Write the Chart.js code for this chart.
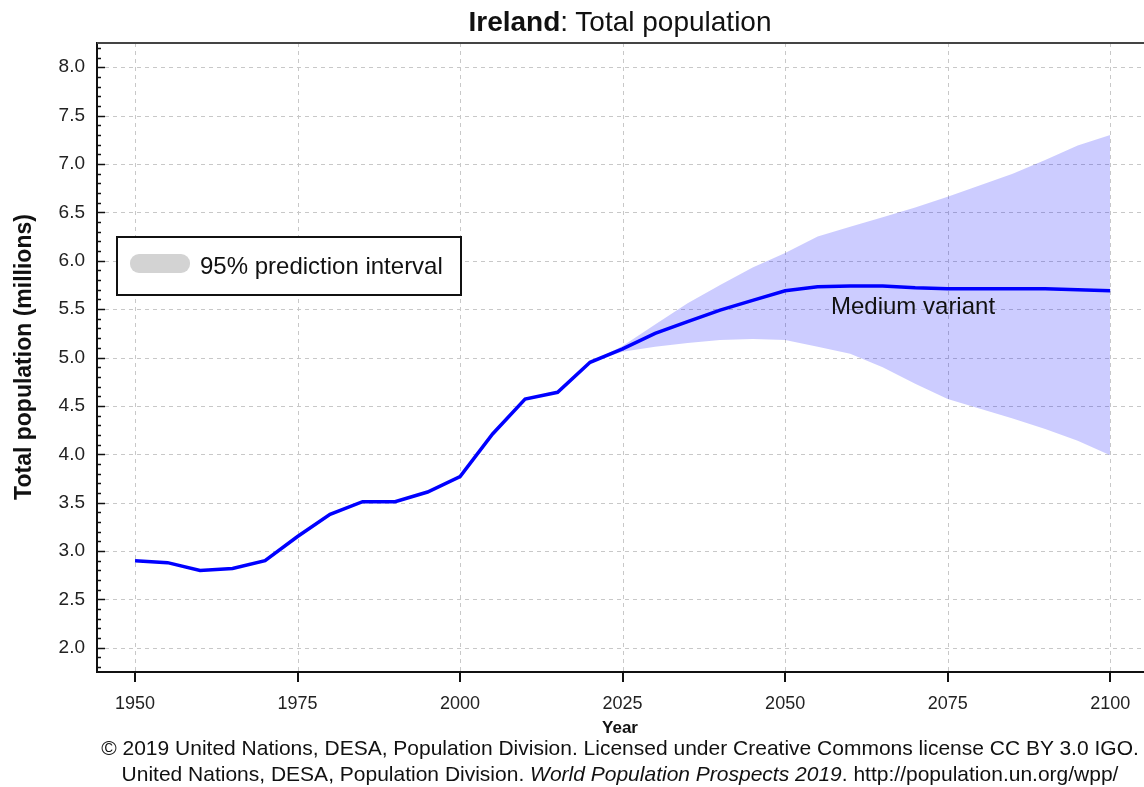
<!DOCTYPE html>
<html>
<head>
<meta charset="utf-8">
<title>Ireland: Total population</title>
<script src="https://cdn.jsdelivr.net/npm/chart.js@4/dist/chart.umd.min.js"></script>
<style>
  body { margin: 0; background: #fff; font-family: "Liberation Sans", Arial, sans-serif; color: #111; }
  #wrap { position: relative; width: 1144px; height: 787px; overflow: hidden; }
  #chart { position: absolute; left: 0; top: 0; }
  #title { position: absolute; left: 320px; width: 600px; top: 6px; text-align: center; font-size: 28px; line-height: 32px; }
  #footer { position: absolute; left: 20px; width: 1200px; top: 735px; text-align: center; font-size: 21px; line-height: 26px; }
</style>
</head>
<body>
<div id="wrap">
  <canvas id="chart" width="1144" height="787"></canvas>
  <div id="title"><b>Ireland</b>: Total population</div>
  <div id="footer">
    © 2019 United Nations, DESA, Population Division. Licensed under Creative Commons license CC BY 3.0 IGO.<br>
    United Nations, DESA, Population Division. <i>World Population Prospects 2019</i>. http://population.un.org/wpp/
  </div>
</div>
<script>
// values (millions)
const years = [1950, 1955, 1960, 1965, 1970, 1975, 1980, 1985, 1990, 1995, 2000, 2005, 2010, 2015, 2020,
  2025, 2030, 2035, 2040, 2045, 2050, 2055, 2060, 2065, 2070, 2075, 2080, 2085, 2090, 2095, 2100];
const medianPop = [2.90, 2.88, 2.80, 2.82, 2.90, 3.15, 3.38, 3.51, 3.51, 3.61, 3.77, 4.21, 4.57, 4.64, 4.95,
  5.09, 5.25, 5.37, 5.49, 5.59, 5.69, 5.73, 5.74, 5.74, 5.72, 5.71, 5.71, 5.71, 5.71, 5.70, 5.69];

const bandYears = [2020, 2025, 2030, 2035, 2040, 2045, 2050, 2055, 2060, 2065, 2070, 2075, 2080, 2085, 2090, 2095, 2100];
const upper95 = [4.95, 5.12, 5.34, 5.56, 5.75, 5.93, 6.08, 6.25, 6.35, 6.45, 6.55, 6.66, 6.78, 6.90, 7.04, 7.19, 7.30];
const lower95 = [4.95, 5.06, 5.11, 5.15, 5.18, 5.19, 5.18, 5.11, 5.04, 4.90, 4.73, 4.57, 4.47, 4.37, 4.26, 4.14, 3.99];

const xTickYears = [1950, 1975, 2000, 2025, 2050, 2075, 2100];
const yTickValues = [2.0, 2.5, 3.0, 3.5, 4.0, 4.5, 5.0, 5.5, 6.0, 6.5, 7.0, 7.5, 8.0];

const FONT = '"Liberation Sans", Arial, sans-serif';

function toPoints(xs, ys) {
  return xs.map((x, i) => ({ x: x, y: ys[i] }));
}

// grid, ticks, legend box and labels around the plot
const decorations = {
  id: 'decorations',
  beforeDatasetsDraw(chart) {
    const { ctx, chartArea: a, scales: { x, y } } = chart;
    ctx.save();
    ctx.strokeStyle = '#c8c8c8';
    ctx.lineWidth = 1;
    ctx.setLineDash([4, 4]);
    xTickYears.forEach(v => {
      const px = Math.round(x.getPixelForValue(v)) + 0.5;
      ctx.beginPath(); ctx.moveTo(px, a.top); ctx.lineTo(px, a.bottom); ctx.stroke();
    });
    yTickValues.forEach(v => {
      const py = Math.round(y.getPixelForValue(v)) + 0.5;
      ctx.beginPath(); ctx.moveTo(a.left, py); ctx.lineTo(a.right, py); ctx.stroke();
    });
    ctx.restore();
  },
  afterDraw(chart) {
    const { ctx, chartArea: a, scales: { x, y } } = chart;
    ctx.save();
    // top frame line
    ctx.strokeStyle = '#444';
    ctx.lineWidth = 2;
    ctx.beginPath(); ctx.moveTo(a.left, a.top); ctx.lineTo(chart.width, a.top); ctx.stroke();

    // y ticks, pointing into the plot
    ctx.strokeStyle = '#111';
    ctx.lineWidth = 1.5;
    for (let i = 18; i <= 82; i++) {
      const py = Math.round(y.getPixelForValue(i / 10)) + 0.5;
      const len = i % 5 === 0 ? 8 : 4;
      ctx.beginPath(); ctx.moveTo(a.left, py); ctx.lineTo(a.left + len, py); ctx.stroke();
    }
    // x ticks, pointing out
    ctx.lineWidth = 2;
    xTickYears.forEach(v => {
      const px = Math.round(x.getPixelForValue(v));
      ctx.beginPath(); ctx.moveTo(px, a.bottom); ctx.lineTo(px, a.bottom + 10); ctx.stroke();
    });

    // axis titles
    ctx.fillStyle = '#111';
    ctx.font = 'bold 17px ' + FONT;
    ctx.textAlign = 'center';
    ctx.textBaseline = 'alphabetic';
    ctx.fillText('Year', 620, 733);

    ctx.save();
    ctx.translate(31, 357);
    ctx.rotate(-Math.PI / 2);
    ctx.font = 'bold 23px ' + FONT;
    ctx.fillText('Total population (millions)', 0, 0);
    ctx.restore();

    // legend box
    ctx.fillStyle = '#fff';
    ctx.fillRect(117, 237, 344, 58);
    ctx.strokeStyle = '#111';
    ctx.lineWidth = 2;
    ctx.strokeRect(117, 237, 344, 58);
    ctx.fillStyle = '#d3d3d3';
    ctx.beginPath();
    ctx.roundRect(130, 254, 60, 19, 9);
    ctx.fill();
    ctx.fillStyle = '#111';
    ctx.font = '24px ' + FONT;
    ctx.textAlign = 'left';
    ctx.fillText('95% prediction interval', 200, 274);

    // series label
    ctx.fillText('Medium variant', 831, 314);
    ctx.restore();
  }
};

new Chart(document.getElementById('chart'), {
  type: 'line',
  data: {
    datasets: [
      {
        label: 'Medium variant',
        data: toPoints(years, medianPop),
        borderColor: '#0000ff',
        borderWidth: 3.5,
        pointRadius: 0,
        fill: false,
        tension: 0
      },
      {
        label: '95% upper',
        data: toPoints(bandYears, upper95),
        borderWidth: 0,
        borderColor: 'rgba(0,0,0,0)',
        backgroundColor: 'rgba(0,0,255,0.2)',
        pointRadius: 0,
        fill: '+1',
        tension: 0
      },
      {
        label: '95% lower',
        data: toPoints(bandYears, lower95),
        borderWidth: 0,
        borderColor: 'rgba(0,0,0,0)',
        pointRadius: 0,
        fill: false,
        tension: 0
      }
    ]
  },
  options: {
    responsive: false,
    animation: false,
    layout: { padding: { left: 0, top: 43, right: 0, bottom: 0 } },
    plugins: {
      legend: { display: false },
      tooltip: { enabled: false },
      title: { display: false }
    },
    scales: {
      x: {
        type: 'linear',
        min: 1944.15,
        max: 2105.2,
        afterBuildTicks: scale => { scale.ticks = xTickYears.map(v => ({ value: v })); },
        afterFit: scale => {
          scale.height = 115;
          scale.paddingLeft = 0;
          scale.paddingRight = 0;
        },
        grid: { display: false, drawTicks: false },
        border: { display: true, color: '#111', width: 2 },
        ticks: {
          padding: 21,
          color: '#222',
          font: { family: FONT, size: 18 },
          maxRotation: 0,
          callback: v => String(v)
        }
      },
      y: {
        type: 'linear',
        min: 1.75,
        max: 8.25,
        afterBuildTicks: scale => { scale.ticks = yTickValues.map(v => ({ value: v })); },
        afterFit: scale => {
          scale.width = 97;
          scale.paddingTop = 0;
          scale.paddingBottom = 0;
        },
        grid: { display: false, drawTicks: false },
        border: { display: true, color: '#111', width: 2 },
        ticks: {
          padding: 12,
          color: '#222',
          font: { family: FONT, size: 19 },
          callback: v => v.toFixed(1)
        }
      }
    }
  },
  plugins: [decorations]
});
</script>
</body>
</html>
